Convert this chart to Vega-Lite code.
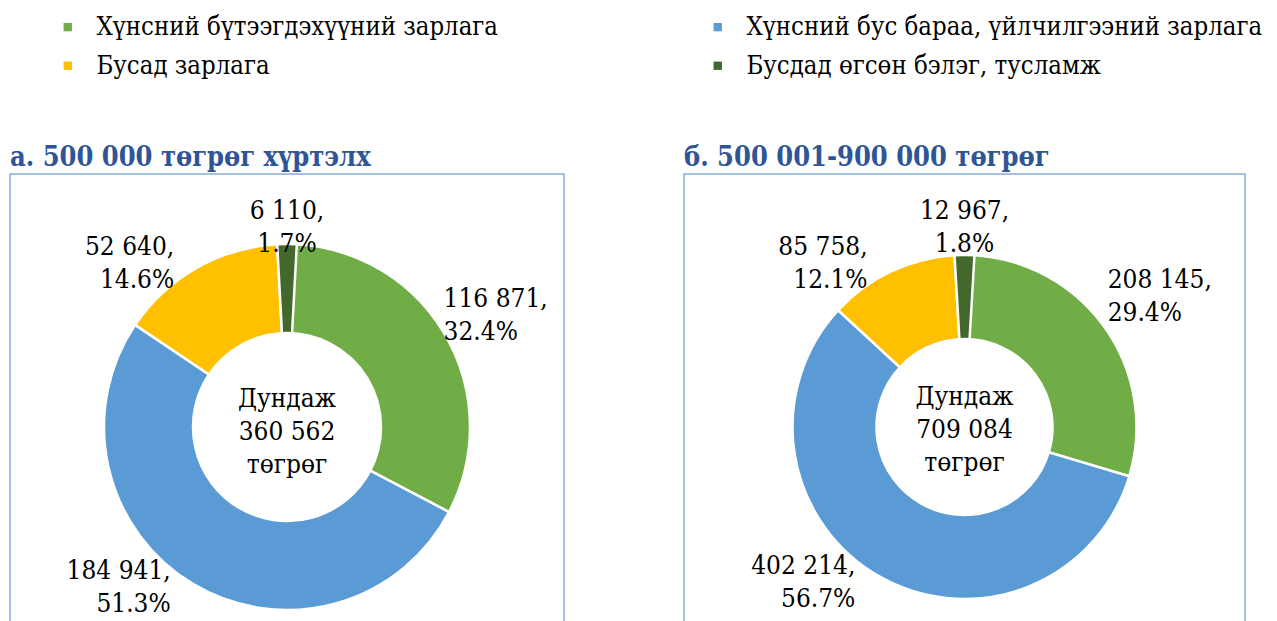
{
  "$schema": "https://vega.github.io/schema/vega-lite/v6.json",
  "background": "white",
  "padding": {"left": 9, "top": 14, "right": 0, "bottom": -58},
  "spacing": 118,
  "config": {
    "font": "DejaVu Serif Condensed, DejaVu Serif",
    "view": {"stroke": "#86ACDF", "strokeWidth": 1.5},
    "style": {"view": {"stroke": "#86ACDF", "strokeWidth": 1.5}},
    "legend": {
      "orient": "none",
      "direction": "horizontal",
      "legendX": 45,
      "legendY": -160,
      "columns": 2,
      "title": null,
      "symbolType": "square",
      "symbolSize": 70,
      "symbolStrokeWidth": 0,
      "labelFont": "DejaVu Serif Condensed, DejaVu Serif",
      "labelFontSize": 25.5,
      "labelColor": "black",
      "labelLimit": 0,
      "labelOffset": 16,
      "columnPadding": 206,
      "rowPadding": 12
    },
    "title": {
      "anchor": "start",
      "font": "DejaVu Serif Condensed, DejaVu Serif",
      "fontSize": 27,
      "fontWeight": "bold",
      "color": "#2F5597",
      "offset": 2
    }
  },
  "resolve": {"scale": {"theta": "independent", "color": "shared"}},
  "datasets": {
    "spend": [
      {"panel": "a", "k": 1, "cat": "Хүнсний бүтээгдэхүүний зарлага", "value": 116871},
      {"panel": "a", "k": 2, "cat": "Хүнсний бус бараа, үйлчилгээний зарлага", "value": 184941},
      {"panel": "a", "k": 3, "cat": "Бусад зарлага", "value": 52640},
      {"panel": "a", "k": 4, "cat": "Бусдад өгсөн бэлэг, тусламж", "value": 6110},
      {"panel": "b", "k": 1, "cat": "Хүнсний бүтээгдэхүүний зарлага", "value": 208145},
      {"panel": "b", "k": 2, "cat": "Хүнсний бус бараа, үйлчилгээний зарлага", "value": 402214},
      {"panel": "b", "k": 3, "cat": "Бусад зарлага", "value": 85758},
      {"panel": "b", "k": 4, "cat": "Бусдад өгсөн бэлэг, тусламж", "value": 12967}
    ]
  },
  "data": {"name": "spend"},
  "hconcat": [
    {
      "width": 554,
      "height": 506,
      "view": {"stroke": "#86ACDF", "strokeWidth": 1.5},
      "title": {"text": "а. 500 000 төгрөг хүртэлх"},
      "transform": [
        {"filter": "datum.panel == 'a'"},
        {"joinaggregate": [{"op": "sum", "field": "value", "as": "total"}]},
        {"stack": "value", "sort": [{"field": "k", "order": "ascending"}], "as": ["v0", "v1"]},
        {"calculate": "(datum.v0 + datum.v1) / 2", "as": "mid"},
        {"calculate": "sin(2 * PI * datum.mid / datum.total)", "as": "side"},
        {"calculate": "[replace(format(datum.value, ','), ',', ' ') + ',', format(datum.value / datum.total, '.1%')]", "as": "label"}
      ],
      "layer": [
        {
          "mark": {"type": "arc", "innerRadius": 94, "outerRadius": 183, "stroke": "white", "strokeWidth": 2.5},
          "encoding": {
            "theta": {"field": "v0", "type": "quantitative", "stack": null, "scale": {"zero": true, "nice": false}},
            "theta2": {"field": "v1"},
            "color": {
              "field": "cat", "type": "nominal",
              "scale": {
                "domain": ["Хүнсний бүтээгдэхүүний зарлага", "Хүнсний бус бараа, үйлчилгээний зарлага", "Бусад зарлага", "Бусдад өгсөн бэлэг, тусламж"],
                "range": ["#70AD47", "#5B9BD5", "#FFC000", "#43682B"]
              }
            }
          }
        },
        {
          "transform": [{"filter": "datum.side > 0.3"}],
          "mark": {"type": "text", "radius": 190, "align": "left", "baseline": "middle", "fontSize": 26, "lineHeight": 33, "dy": -30, "dx": -6, "color": "black"},
          "encoding": {"theta": {"field": "mid", "type": "quantitative", "stack": null}, "text": {"field": "label"}}
        },
        {
          "transform": [{"filter": "datum.side < -0.3"}],
          "mark": {"type": "text", "radius": 188, "align": "right", "baseline": "middle", "fontSize": 26, "lineHeight": 33, "dy": -17, "dx": -20, "color": "black"},
          "encoding": {"theta": {"field": "mid", "type": "quantitative", "stack": null}, "text": {"field": "label"}}
        },
        {
          "transform": [{"filter": "abs(datum.side) <= 0.3"}],
          "mark": {"type": "text", "radius": 200, "align": "center", "baseline": "middle", "fontSize": 26, "lineHeight": 33, "dy": -16, "color": "black"},
          "encoding": {"theta": {"field": "mid", "type": "quantitative", "stack": null}, "text": {"field": "label"}}
        },
        {
          "transform": [
            {"aggregate": [{"op": "sum", "field": "value", "as": "tot"}]},
            {"calculate": "['Дундаж', replace(format(datum.tot, ','), ',', ' '), 'төгрөг']", "as": "centre"}
          ],
          "mark": {"type": "text", "align": "center", "baseline": "middle", "fontSize": 26, "lineHeight": 33, "color": "black", "dy": -28},
          "encoding": {"text": {"field": "centre"}}
        }
      ]
    },
    {
      "width": 561,
      "height": 506,
      "view": {"stroke": "#86ACDF", "strokeWidth": 1.5},
      "title": {"text": "б. 500 001-900 000 төгрөг"},
      "transform": [
        {"filter": "datum.panel == 'b'"},
        {"joinaggregate": [{"op": "sum", "field": "value", "as": "total"}]},
        {"stack": "value", "sort": [{"field": "k", "order": "ascending"}], "as": ["v0", "v1"]},
        {"calculate": "(datum.v0 + datum.v1) / 2", "as": "mid"},
        {"calculate": "sin(2 * PI * datum.mid / datum.total)", "as": "side"},
        {"calculate": "[replace(format(datum.value, ','), ',', ' ') + ',', format(datum.value / datum.total, '.1%')]", "as": "label"}
      ],
      "layer": [
        {
          "mark": {"type": "arc", "innerRadius": 88, "outerRadius": 172, "stroke": "white", "strokeWidth": 2.5},
          "encoding": {
            "theta": {"field": "v0", "type": "quantitative", "stack": null, "scale": {"zero": true, "nice": false}},
            "theta2": {"field": "v1"},
            "color": {"field": "cat", "type": "nominal"}
          }
        },
        {
          "transform": [{"filter": "datum.side > 0.3"}],
          "mark": {"type": "text", "radius": 186, "align": "left", "baseline": "middle", "fontSize": 26, "lineHeight": 33, "dy": -36, "dx": -6, "color": "black"},
          "encoding": {"theta": {"field": "mid", "type": "quantitative", "stack": null}, "text": {"field": "label"}}
        },
        {
          "transform": [{"filter": "datum.side < -0.3"}],
          "mark": {"type": "text", "radius": 180, "align": "right", "baseline": "middle", "fontSize": 26, "lineHeight": 33, "dy": -17, "dx": -20, "color": "black"},
          "encoding": {"theta": {"field": "mid", "type": "quantitative", "stack": null}, "text": {"field": "label"}}
        },
        {
          "transform": [{"filter": "abs(datum.side) <= 0.3"}],
          "mark": {"type": "text", "radius": 200, "align": "center", "baseline": "middle", "fontSize": 26, "lineHeight": 33, "dy": -16, "color": "black"},
          "encoding": {"theta": {"field": "mid", "type": "quantitative", "stack": null}, "text": {"field": "label"}}
        },
        {
          "transform": [
            {"aggregate": [{"op": "sum", "field": "value", "as": "tot"}]},
            {"calculate": "['Дундаж', replace(format(datum.tot, ','), ',', ' '), 'төгрөг']", "as": "centre"}
          ],
          "mark": {"type": "text", "align": "center", "baseline": "middle", "fontSize": 26, "lineHeight": 33, "color": "black", "dy": -30},
          "encoding": {"text": {"field": "centre"}}
        }
      ]
    }
  ]
}
